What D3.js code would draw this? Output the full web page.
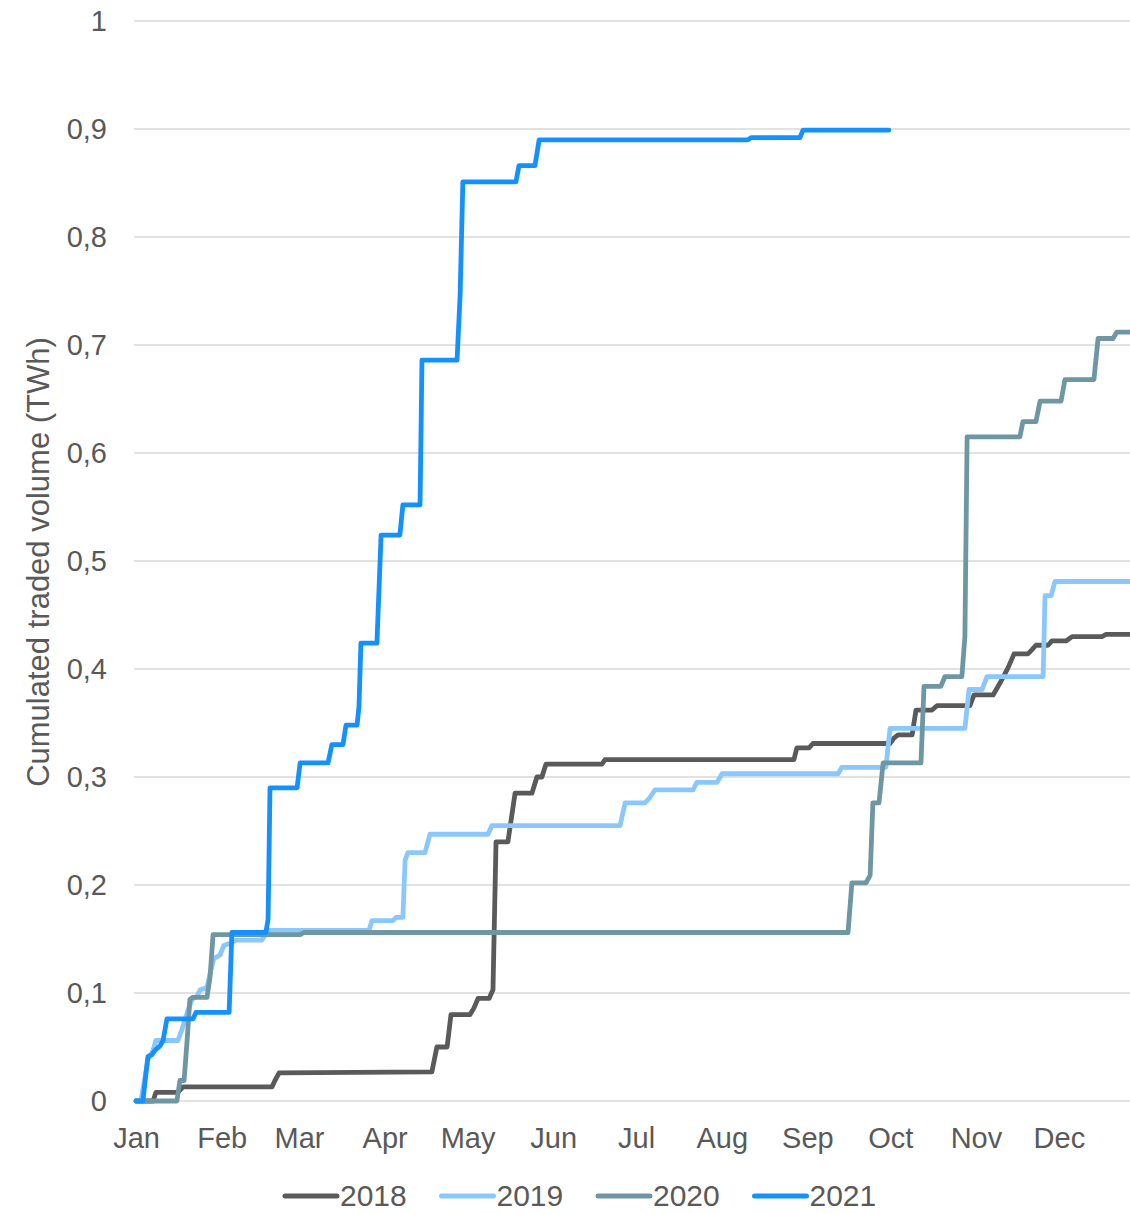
<!DOCTYPE html>
<html lang="en">
<head>
    <meta charset="UTF-8">
    <script src="https://d3js.org/d3.v7.min.js"></script>
    <style>
        body { margin: 0; background: #fff; }
        svg { display: block; font-family: "Liberation Sans", Arial, sans-serif; }
        .grid line { stroke: #d9d9d9; stroke-width: 1.5px; }
        .axis text { fill: #595959; font-size: 29px; }
        .series { fill: none; stroke-width: 4.8px; stroke-linejoin: round; stroke-linecap: round; }
    </style>
</head>
<body>
<div class="chart"></div>
<script>
    // x = day of year, y = cumulated volume (TWh)
    const monthStarts = [0, 31, 59, 90, 120, 151, 181, 212, 243, 273, 304, 334]
    const monthNames = ['Jan', 'Feb', 'Mar', 'Apr', 'May', 'Jun', 'Jul', 'Aug', 'Sep', 'Oct', 'Nov', 'Dec']
    const yTicks = [0, 0.1, 0.2, 0.3, 0.4, 0.5, 0.6, 0.7, 0.8, 0.9, 1]

    const years = ['2018', '2019', '2020', '2021']
    const colors = ['#5a5a5a', '#8ac7fc', '#6e97a3', '#1591fd']

    const s2018 = [[0,0],[6.2,0],[7.2,0.008],[15.2,0.008],[17,0.013],[49.2,0.013],[50.3,0.019],[51.8,0.026],
        [107.1,0.027],[108.9,0.05],[112.6,0.05],[114,0.08],[120.9,0.08],[122.3,0.086],[123.8,0.095],[127.8,0.095],
        [129.2,0.103],[130.3,0.24],[134.6,0.24],[137.2,0.285],[143.3,0.285],[145.1,0.3],[146.9,0.3],[148.4,0.312],
        [168.7,0.312],[169.7,0.316],[238.1,0.316],[239.2,0.327],[243.6,0.327],[245,0.331],[272.9,0.331],[274.3,0.336],
        [275.8,0.339],[280.9,0.339],[282.3,0.362],[288.1,0.362],[289.9,0.366],[301.8,0.366],[303.3,0.376],[310.2,0.376],
        [312.7,0.387],[315.6,0.401],[317.8,0.414],[322.8,0.414],[324.3,0.418],[325.7,0.422],[330.1,0.422],[331.5,0.426],
        [336.6,0.426],[338.8,0.43],[349.6,0.43],[351.1,0.432],[364,0.432]]

    const s2019 = [[0,0],[1.8,0],[2.9,0.017],[4.3,0.038],[6.2,0.047],[7.2,0.056],[15.2,0.056],[16.6,0.066],
        [18.8,0.084],[20.3,0.094],[22.1,0.097],[23.2,0.103],[25.7,0.105],[27.1,0.121],[28.2,0.132],[30.4,0.135],
        [31.8,0.144],[34,0.146],[36.2,0.149],[45.6,0.149],[47.8,0.158],[84.3,0.158],[85.4,0.167],[93,0.167],
        [94.1,0.17],[96.6,0.17],[97.4,0.223],[98.4,0.23],[104.6,0.23],[106.4,0.247],[127.4,0.247],[128.8,0.255],
        [175.2,0.255],[177,0.276],[184.2,0.276],[186,0.281],[187.8,0.288],[201.6,0.288],[203,0.295],[210.3,0.295],
        [212.1,0.303],[254.1,0.303],[255.5,0.309],[271.4,0.309],[272.9,0.345],[300,0.345],[301.5,0.381],[306.2,0.381],
        [308,0.393],[328.3,0.393],[329,0.468],[331.2,0.468],[332.6,0.481],[364,0.481]]

    const s2020 = [[0,0],[14.8,0],[15.9,0.019],[17.4,0.019],[18.5,0.056],[19.5,0.094],[20.6,0.096],[25.7,0.096],
        [26.8,0.115],[27.9,0.154],[59.4,0.154],[60.8,0.156],[257.7,0.156],[259.1,0.202],[264.2,0.202],[265.7,0.209],
        [266.7,0.276],[268.9,0.276],[270.4,0.313],[284.1,0.313],[285.2,0.384],[291.3,0.384],[292.8,0.393],[298.9,0.393],
        [300,0.43],[300.8,0.615],[319.9,0.615],[321,0.629],[325.7,0.629],[327.2,0.648],[334.8,0.648],[336.2,0.668],
        [346.7,0.668],[348.2,0.706],[353.6,0.706],[355,0.712],[364,0.712]]

    const s2021 = [[0,0],[2.5,0],[4.3,0.041],[5.8,0.043],[6.9,0.047],[8.7,0.051],[9.8,0.056],[11.2,0.076],
        [20.6,0.076],[21.7,0.082],[33.7,0.082],[34.7,0.156],[47,0.156],[47.8,0.168],[48.5,0.29],[58.3,0.29],
        [59.4,0.313],[69.5,0.313],[70.9,0.33],[74.9,0.33],[76,0.348],[80,0.348],[80.7,0.365],[81.4,0.424],
        [87.2,0.424],[88.7,0.524],[95.5,0.524],[96.6,0.552],[102.8,0.552],[103.5,0.686],[116.2,0.686],[117.3,0.746],
        [118.3,0.851],[137.5,0.851],[138.6,0.866],[144.4,0.866],[145.9,0.89],[221.5,0.89],[222.6,0.892],[240.3,0.892],
        [241.4,0.899],[272.5,0.899]]

    const seriesData = [s2018, s2019, s2020, s2021]

    const width = 1130,
        height = 1214

    const svg = d3.select('.chart')
        .append('svg')
        .attr('width', width)
        .attr('height', height)

    const x = d3.scaleLinear()
        .domain([0, 365])
        .range([136, 1144.5])

    const y = d3.scaleLinear()
        .domain([0, 1])
        .range([1101, 21])

    // horizontal gridlines
    svg.append('g')
        .attr('class', 'grid')
        .selectAll('line')
        .data(yTicks)
        .enter().append('line')
        .attr('x1', 134)
        .attr('x2', width)
        .attr('y1', d => y(d))
        .attr('y2', d => y(d))

    // y axis labels
    const yAxis = d3.axisLeft(y)
        .tickValues(yTicks)
        .tickSize(0)
        .tickPadding(0)
        .tickFormat(d => d3.format('.1~f')(d).replace('.', ','))
    svg.append('g')
        .attr('class', 'axis')
        .attr('transform', 'translate(107,0)')
        .call(yAxis)
        .call(g => g.select('.domain').remove())

    // x axis labels
    const xAxis = d3.axisBottom(x)
        .tickValues(monthStarts)
        .tickSize(0)
        .tickPadding(0)
        .tickFormat((d, i) => monthNames[i])
    svg.append('g')
        .attr('class', 'axis')
        .attr('transform', 'translate(0,1127)')
        .call(xAxis)
        .call(g => g.select('.domain').remove())

    // y title
    svg.append('text')
        .attr('transform', 'translate(49,562) rotate(-90)')
        .attr('text-anchor', 'middle')
        .attr('fill', '#595959')
        .style('font-size', '31px')
        .text('Cumulated traded volume (TWh)')

    const line = d3.line()
        .x(d => x(d[0]))
        .y(d => y(d[1]))

    svg.append('g')
        .selectAll('.series')
        .data(seriesData)
        .enter().append('path')
        .attr('class', 'series')
        .attr('stroke', (d, i) => colors[i])
        .attr('d', line)

    // legend
    const legend = svg.append('g')
        .attr('transform', 'translate(283,1196)')
    const item = legend.selectAll('g')
        .data(years)
        .enter().append('g')
        .attr('transform', (d, i) => `translate(${i * 156.5},0)`)
    item.append('line')
        .attr('x1', 2).attr('x2', 54)
        .attr('stroke', (d, i) => colors[i])
        .attr('stroke-width', 5)
        .attr('stroke-linecap', 'round')
    item.append('text')
        .attr('x', 57)
        .attr('y', 10)
        .attr('fill', '#595959')
        .style('font-size', '30px')
        .text(d => d)
</script>
</body>
</html>
